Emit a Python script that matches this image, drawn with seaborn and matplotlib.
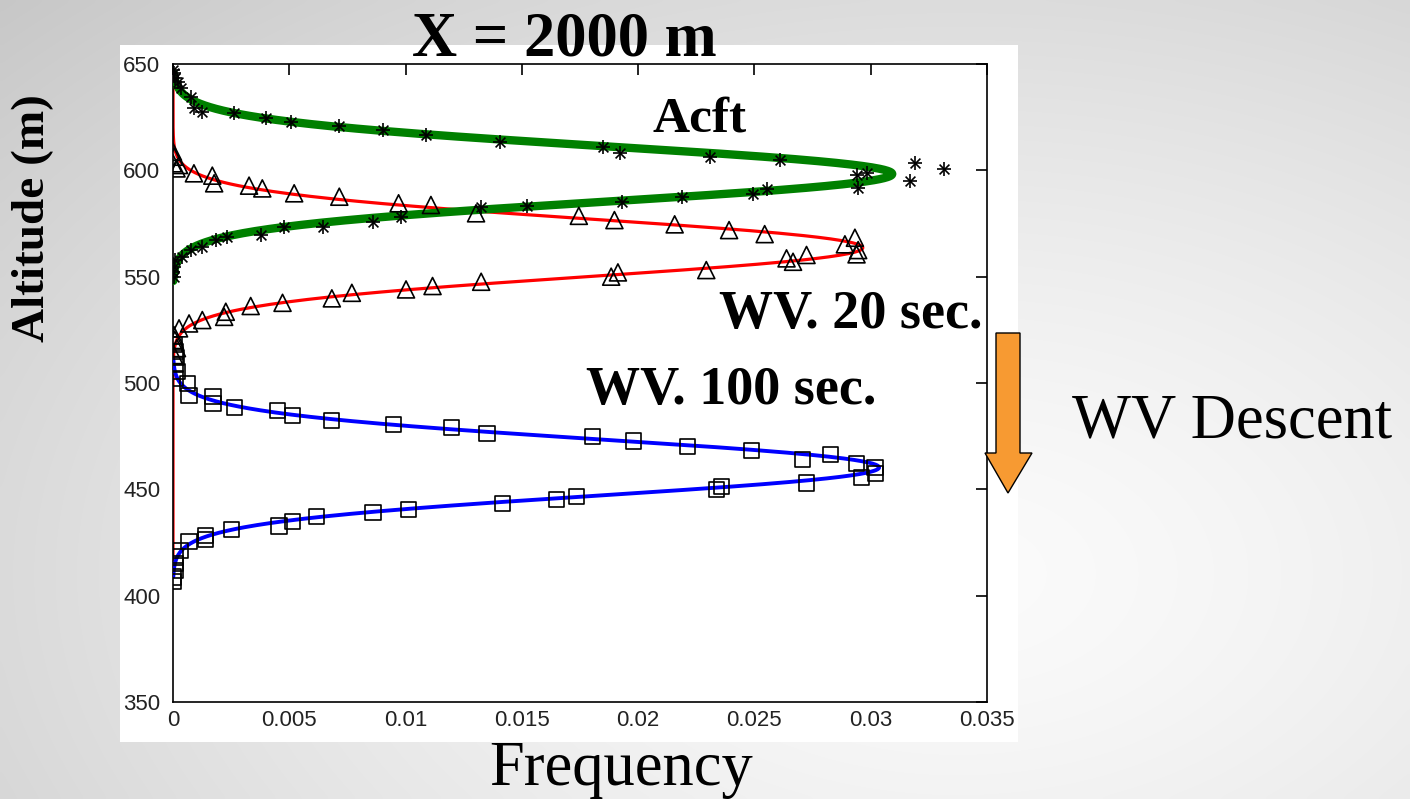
import numpy as np
import pandas as pd
import matplotlib
matplotlib.use("Agg")
import matplotlib.pyplot as plt
from matplotlib.patches import Rectangle, Polygon
import seaborn as sns

# ---- observed frequency profiles (frequency, altitude in m) ----
acft_freq = [0.0, 0.00005, 0.0001, 0.0002, 0.00033, 0.00076, 0.0009, 0.00126, 0.00263,
             0.00399, 0.00507, 0.00715, 0.00901, 0.01088, 0.01406, 0.01848, 0.01923,
             0.02311, 0.02609, 0.0319, 0.03315, 0.02939, 0.02982, 0.03171, 0.02946,
             0.02552, 0.02494, 0.0219, 0.01932, 0.01521, 0.01325, 0.0098, 0.00858,
             0.00643, 0.00478, 0.00378, 0.00234, 0.00184, 0.00126, 0.00076, 0.0004,
             0.0001, 0.00005, 0.0, 0.00005]
acft_alt = [647.2, 645.6, 643.3, 641.7, 638.6, 634.6, 629.2, 627.6, 626.8,
            624.5, 622.9, 621.0, 619.0, 616.6, 613.5, 611.1, 608.0,
            606.4, 604.8, 603.3, 600.5, 597.8, 598.6, 595.1, 591.5,
            591.0, 588.8, 587.6, 585.2, 583.2, 582.9, 578.2, 575.8,
            573.5, 573.5, 569.6, 568.8, 567.2, 564.1, 562.5, 559.4,
            557.8, 554.6, 552.3, 549.9]

wv20_freq = [0.0, 0.00005, 0.0, 0.00015, 0.00026, 0.0009, 0.00169, 0.00177, 0.00327,
             0.00384, 0.00521, 0.00715, 0.0097, 0.01109, 0.01303, 0.01745, 0.01898,
             0.02157, 0.02391, 0.02544, 0.02932, 0.02889, 0.02946, 0.02939, 0.02724,
             0.02666, 0.02638, 0.02293, 0.01913, 0.01884, 0.01325, 0.01116, 0.01002,
             0.00769, 0.00683, 0.00471, 0.00334, 0.00227, 0.0022, 0.00126, 0.00069,
             0.00026, 0.00004, 0.00008, 0.00017, 0.00004]
wv20_alt = [608.7, 606.4, 603.3, 600.9, 602.5, 598.6, 597.5, 593.9, 592.8,
            591.5, 589.2, 587.6, 584.5, 583.7, 579.8, 578.6, 576.6,
            574.6, 571.9, 570.0, 568.3, 565.2, 562.5, 560.5, 560.2,
            557.0, 558.6, 553.1, 552.0, 550.0, 547.6, 545.6, 544.0,
            542.4, 539.8, 537.7, 536.2, 533.5, 531.1, 529.6, 528.0,
            525.7, 522.5, 520.2, 516.4, 513.1]

wv100_freq = [0.00005, 0.0001, 0.00015, 0.0001, 0.0002, 0.0001, 0.00062, 0.00069, 0.00172,
              0.00172, 0.00263, 0.00449, 0.00514, 0.00681, 0.00948, 0.01198, 0.0135,
              0.01805, 0.0198, 0.02211, 0.02487, 0.02706, 0.02827, 0.02939, 0.03018,
              0.03022, 0.0296, 0.02724, 0.02358, 0.02336, 0.01734, 0.01648, 0.01418,
              0.01013, 0.0086, 0.00617, 0.00514, 0.00456, 0.00253, 0.00141, 0.00141,
              0.00069, 0.00033, 0.0001, 0.0001, 0.0001, 0.0, 0.0]
wv100_alt = [518.0, 514.7, 511.9, 508.6, 505.3, 502.0, 499.8, 494.3, 493.5,
             490.4, 488.3, 486.9, 484.9, 482.5, 480.5, 478.9, 476.3,
             474.7, 472.7, 470.0, 468.1, 464.1, 466.5, 462.2, 460.3,
             457.5, 455.6, 453.0, 451.5, 449.9, 446.8, 445.2, 443.4,
             440.7, 439.1, 437.4, 434.7, 432.8, 431.1, 428.4, 426.4,
             425.3, 421.4, 418.2, 415.1, 412.0, 408.8, 406.5]

# ---- fitted normal densities: mean (m), std (m), altitude span evaluated ----
acft_fit = dict(mean=598.3, std=12.9, lo=548.0, hi=645.5)
wv20_fit = dict(mean=563.6, std=13.45, lo=415.0, hi=645.5)
wv100_fit = dict(mean=460.3, std=13.14, lo=409.0, hi=511.0)

x_ticks = [0, 0.005, 0.01, 0.015, 0.02, 0.025, 0.03, 0.035]
x_tick_labels = ["0", "0.005", "0.01", "0.015", "0.02", "0.025", "0.03", "0.035"]
y_ticks = [350, 400, 450, 500, 550, 600, 650]


def fit_curve(p):
    alt = np.linspace(p["hi"], p["lo"], 600)
    freq = np.exp(-0.5 * ((alt - p["mean"]) / p["std"]) ** 2) / (p["std"] * np.sqrt(2 * np.pi))
    return pd.DataFrame({"freq": freq, "alt": alt})


sns.set_style("white")
plt.rcParams["font.family"] = ["Liberation Serif", "DejaVu Serif"]
plt.rcParams["text.color"] = "black"

W, H = 1410, 799
fig = plt.figure(figsize=(W / 100, H / 100), dpi=100)


def fx(px):
    return px / W


def fy(py):
    return 1 - py / H


# slide background: soft grey radial shading
bg_ax = fig.add_axes([0, 0, 1, 1], zorder=-10)
gx, gy = np.meshgrid(np.linspace(0, 1, 300), np.linspace(0, 1, 170))
dist = np.sqrt(((gx - 0.68) / 1.0) ** 2 + ((gy - 0.72) / 1.1) ** 2)
shade = 0.985 - 0.22 * dist ** 1.4
bg_ax.imshow(np.dstack([shade] * 3).clip(0, 1), aspect="auto", extent=[0, 1, 0, 1],
             origin="upper", interpolation="bicubic")
bg_ax.set_axis_off()

# white plot panel
fig.patches.append(Rectangle((fx(120), fy(742)), fx(1018) - fx(120), fy(45) - fy(742),
                             transform=fig.transFigure, facecolor="white",
                             edgecolor="none", zorder=-5))

ax = fig.add_axes([fx(173), fy(702), fx(987) - fx(173), fy(64) - fy(702)])
ax.set_facecolor("white")

sns.lineplot(data=fit_curve(wv20_fit), x="freq", y="alt", sort=False, estimator=None,
             color="#ff0000", lw=2.3, ax=ax, zorder=2)
sns.lineplot(data=fit_curve(wv100_fit), x="freq", y="alt", sort=False, estimator=None,
             color="#0000ff", lw=2.8, ax=ax, zorder=3)
sns.lineplot(data=fit_curve(acft_fit), x="freq", y="alt", sort=False, estimator=None,
             color="#008000", lw=6.0, ax=ax, zorder=4)

# observations: asterisks (+ overlaid with x), open triangles, open squares
sns.scatterplot(x=acft_freq, y=acft_alt, marker="+", s=110, color="black",
                linewidth=1.2, ax=ax, zorder=6)
sns.scatterplot(x=acft_freq, y=acft_alt, marker="x", s=50, color="black",
                linewidth=1.2, ax=ax, zorder=6)
sns.scatterplot(x=wv20_freq, y=wv20_alt, marker="^", s=150, facecolor="none",
                edgecolor="black", linewidth=1.2, ax=ax, zorder=6)
sns.scatterplot(x=wv100_freq, y=wv100_alt, marker="s", s=120, facecolor="none",
                edgecolor="black", linewidth=1.2, ax=ax, zorder=6)

ax.set_xlim(0, 0.035)
ax.set_ylim(350, 650)
ax.set_xticks(x_ticks)
ax.set_xticklabels(x_tick_labels)
ax.set_yticks(y_ticks)
ax.set_xlabel("")
ax.set_ylabel("")
for s in ax.spines.values():
    s.set_visible(True)
    s.set_color("black")
    s.set_linewidth(1.2)
ax.tick_params(direction="in", top=True, right=True, length=8, width=1.2,
               colors="black", labelcolor="#222222", labelsize=16)
ax.tick_params(axis="x", pad=6)
ax.tick_params(axis="y", pad=9)
for lab in ax.get_xticklabels() + ax.get_yticklabels():
    lab.set_family(["Liberation Sans", "DejaVu Sans"])

# titles and annotations
fig.text(fx(564), fy(55), "X = 2000 m", ha="center", va="baseline",
         fontsize=45, fontweight="bold", color="black")
fig.text(fx(700), fy(131), "Acft", ha="center", va="baseline",
         fontsize=37, fontweight="bold", color="black")
fig.text(fx(851), fy(328), "WV. 20 sec.", ha="center", va="baseline",
         fontsize=39, fontweight="bold", color="black")
fig.text(fx(731), fy(404), "WV. 100 sec.", ha="center", va="baseline",
         fontsize=39, fontweight="bold", color="black")
fig.text(fx(1232), fy(437), "WV Descent", ha="center", va="baseline", fontsize=45,
         color="black")
fig.text(fx(621), fy(785), "Frequency", ha="center", va="baseline", fontsize=45,
         color="black")
fig.text(fx(33), fy(218), "Altitude (m)", ha="center", va="center", rotation=90,
         fontsize=34, fontweight="bold", color="black")

# descent arrow
arrow_px = [(996, 333), (1020, 333), (1020, 453), (1032, 453), (1008, 493),
            (985, 453), (996, 453)]
fig.patches.append(Polygon([(fx(x), fy(y)) for x, y in arrow_px], closed=True,
                           transform=fig.transFigure, facecolor="#f79a32",
                           edgecolor="black", linewidth=1.0, zorder=10))

fig.savefig("out.png", dpi=100)
